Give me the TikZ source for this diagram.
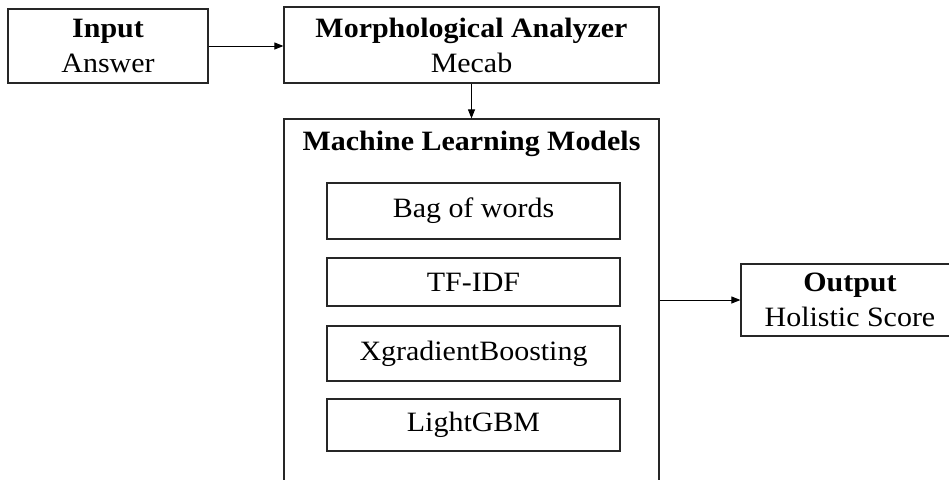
\documentclass[tikz,border=0pt]{standalone}
\usepackage{fontspec}
\setmainfont{Liberation Serif}[FakeStretch=1.07]
\usetikzlibrary{arrows.meta}
\begin{document}
\begin{tikzpicture}[x=1pt,y=-1pt,
  box/.style={draw=black!85, line width=1.2pt, inner sep=0pt, align=center},
  txt/.style={font=\fontsize{28}{35}\selectfont},
  conn/.style={line width=1pt, -{Triangle[length=9pt,width=7pt]}}]
\useasboundingbox (0,0) rectangle (949,479);
\clip (0,0) rectangle (949,479);
\node[box, txt, minimum width=200pt, minimum height=74pt] (in) at (108,46) {\textbf{Input}\\Answer};
\node[box, txt, minimum width=375pt, minimum height=76pt] (morph) at (471.5,45) {\textbf{Morphological Analyzer}\\Mecab};
\node[box, minimum width=375pt, minimum height=400pt] (ml) at (471.5,319) {};
\node[txt, inner sep=0pt] (mltitle) at (471.5,144) {\textbf{Machine Learning Models}};
\node[box, txt, minimum width=293pt, minimum height=56pt] (bow) at (473.5,211) {Bag of words};
\node[box, txt, minimum width=293pt, minimum height=48pt] (tfidf) at (473.5,282) {TF-IDF};
\node[box, txt, minimum width=293pt, minimum height=55pt] (xgb) at (473.5,353.5) {XgradientBoosting};
\node[box, txt, minimum width=293pt, minimum height=52pt] (lgbm) at (473.5,425) {LightGBM};
\node[box, minimum width=280pt, minimum height=72pt] (outbox) at (881,300) {};
\node[txt, align=center, inner sep=0pt] (out) at (850,300) {\textbf{Output}\\Holistic Score};
\draw[conn] (in.east |- 0,46) -- (morph.west |- 0,46);
\draw[conn] (morph.south) -- (ml.north);
\draw[conn] (ml.east |- outbox.west) -- (outbox.west);
\end{tikzpicture}
\end{document}
